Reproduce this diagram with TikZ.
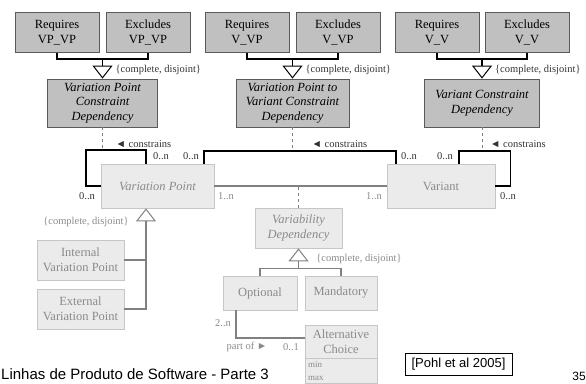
\documentclass[tikz,border=0pt]{standalone}
\usepackage{fontspec}
\setmainfont{Liberation Serif}
\newfontfamily\slidefont{Liberation Sans}
\usetikzlibrary{arrows.meta,positioning,calc}
\definecolor{boxdark}{HTML}{C0C0C0}
\definecolor{edgedark}{HTML}{5A5A5A}
\definecolor{boxlight}{HTML}{EBEBEB}
\definecolor{edgelight}{HTML}{C6C6C6}
\definecolor{textlight}{HTML}{8A8A8A}
\definecolor{linelight}{HTML}{808080}
\tikzset{
  darkbox/.style={draw=edgedark,fill=boxdark,line width=0.8pt,align=center,inner sep=2pt,
    font=\fontsize{12.5}{14.5}\selectfont},
  kindbox/.style={darkbox,minimum width=84pt,minimum height=40pt},
  depbox/.style={darkbox,minimum height=48pt,font=\fontsize{12.5}{14.5}\selectfont\itshape},
  lightbox/.style={draw=edgelight,fill=boxlight,line width=0.8pt,align=center,inner sep=2pt,
    text=textlight,font=\fontsize{12.5}{14.5}\selectfont},
  abstract/.style={font=\fontsize{12.5}{14.5}\selectfont\itshape},
  strong/.style={line width=1.8pt,black},
  weak/.style={line width=1.6pt,linelight},
  gen/.style={-{Triangle[open,length=13pt,width=20pt,line width=1pt]}},
  lbl/.style={font=\fontsize{10.5}{12}\selectfont,inner sep=0pt,text=black!80},
  lbllight/.style={lbl,text=textlight},
  hint/.style={dashed,line width=0.6pt,gray}
}
\begin{document}
\begin{tikzpicture}[x=1pt,y=-1pt]
\useasboundingbox (0,0) rectangle (586,383);

% constraint kinds
\node[kindbox] (reqvpvp) at (57,32.5) {Requires\\VP\_VP};
\node[kindbox] (excvpvp) at (148,32.5) {Excludes\\VP\_VP};
\node[kindbox] (reqvvp) at (247,32.5) {Requires\\V\_VP};
\node[kindbox] (excvvp) at (338,32.5) {Excludes\\V\_VP};
\node[kindbox] (reqvv) at (437,32.5) {Requires\\V\_V};
\node[kindbox] (excvv) at (527,32.5) {Excludes\\V\_V};

% constraint dependencies
\node[depbox,minimum width=110pt] (vpcd) at (102.5,103) {Variation Point\\Constraint\\Dependency};
\node[depbox,minimum width=113pt] (vpvcd) at (292.5,103) {Variation Point to\\Variant Constraint\\Dependency};
\node[depbox,minimum width=115pt] (vcd) at (482,103) {Variant Constraint\\Dependency};

\foreach \r/\e/\d in {reqvpvp/excvpvp/vpcd,reqvvp/excvvp/vpvcd,reqvv/excvv/vcd}{
  \path (\d.north) ++(0,-20) coordinate (j-\d);
  \draw[strong] (\r.south) |- (j-\d) -| (\e.south);
  \draw[black,line width=1.8pt,gen] (j-\d) -- (\d.north);
  \node[lbl,anchor=west] (gl-\d) at ([xshift=13pt,yshift=-11pt]j-\d) {\{complete, disjoint\}};
}

% variability model
\node[lightbox,abstract,minimum width=113pt,minimum height=44pt] (vp) at (157.5,186) {Variation Point};
\node[lightbox,minimum width=108pt,minimum height=44pt] (var) at (441,186) {Variant};
\node[lightbox,abstract,minimum width=87pt,minimum height=40pt] (vd) at (298.5,228) {Variability\\Dependency};
\node[lightbox,minimum width=87pt,minimum height=40pt] (intvp) at (80.5,260) {Internal\\Variation Point};
\node[lightbox,minimum width=87pt,minimum height=40pt] (extvp) at (80.5,309) {External\\Variation Point};
\node[lightbox,minimum width=74pt,minimum height=34pt] (opt) at (260,293) {Optional};
\node[lightbox,minimum width=72pt,minimum height=34pt] (mand) at (341,293) {Mandatory};
\node[lightbox,minimum width=72pt,minimum height=33pt] (alt) at (341,341.5) {Alternative\\Choice};
\node[lightbox,below=0pt of alt,text width=66pt,inner sep=3pt,align=left,
  font=\fontsize{9}{13}\selectfont] (altattr) {min\\max};

% constrains associations
\draw[strong] ([xshift=-11.5pt]vp.north) -- ++(0,-14) coordinate (vptop) -| ([xshift=-15pt]vp.west) -- (vp.west);
\draw[strong] ([xshift=46.5pt]vp.north) -- ++(0,-13) coordinate (vvtop) -| ([xshift=-45pt]var.north);
\draw[strong] ([xshift=18pt]var.north) -- ++(0,-13) coordinate (vtop) -| ([xshift=15pt]var.east) -- (var.east);
\draw[weak] (vp.east) -- (var.west);

\draw[hint] (vpcd.south) -- (vpcd.south |- vptop);
\draw[hint] (vpvcd.south) -- (vpvcd.south |- vvtop);
\draw[hint] (vcd.south) -- (vcd.south |- vtop);
\draw[hint,linelight] (vd.north) -- (vd.north |- vp.east);

\node[lbl] (c1) at (143.5,144) {◄ constrains};
\node[lbl] (c2) at (339.5,144) {◄ constrains};
\node[lbl] (c3) at (518,144) {◄ constrains};
\node[lbl] (m1) at (161,156) {0..n};
\node[lbl] (m2) at (87,196) {0..n};
\node[lbl] (m3) at (191,156) {0..n};
\node[lbl] (m4) at (409,156) {0..n};
\node[lbl] (m5) at (445,156) {0..n};
\node[lbl] (m6) at (508,196) {0..n};
\node[lbllight] (m7) at (226,196) {1..n};
\node[lbllight] (m8) at (374,196) {1..n};

% generalisations
\draw[weak,gen] (extvp.east) -| ([xshift=-11.5pt]vp.south);
\draw[weak] (intvp.east) -- (intvp.east -| vptop);
\node[lbllight] (gl-vp) at (86,222) {\{complete, disjoint\}};

\path (vd.south) ++(0,20) coordinate (jvd);
\draw[weak] (opt.north) |- (jvd) -| (mand.north);
\draw[weak,gen] (jvd) -- (vd.south);
\node[lbllight] (gl-vd) at (359,259) {\{complete, disjoint\}};

% part of
\draw[weak] ([xshift=-24pt]opt.south) |- ([yshift=3.5pt]alt.west);
\node[lbllight] (m9) at (223,323) {2..n};
\node[lbllight] (po) at (247,347) {part of ►};
\node[lbllight] (m10) at (291,347) {0..1};

% slide footer
\node[font=\slidefont\fontsize{15}{18}\selectfont,anchor=base west,inner sep=0pt] (footer) at (1,379) {Linhas de Produto de Software - Parte 3};
\node[draw,line width=0.8pt,font=\slidefont\fontsize{13}{15}\selectfont,minimum width=107pt,minimum height=22pt,inner sep=0pt] (cite) at (458.5,364) {[Pohl et al 2005]};
\node[font=\slidefont\fontsize{12}{14}\selectfont,anchor=base east,inner sep=0pt] (pagenum) at (586,380) {35};
\end{tikzpicture}
\end{document}
